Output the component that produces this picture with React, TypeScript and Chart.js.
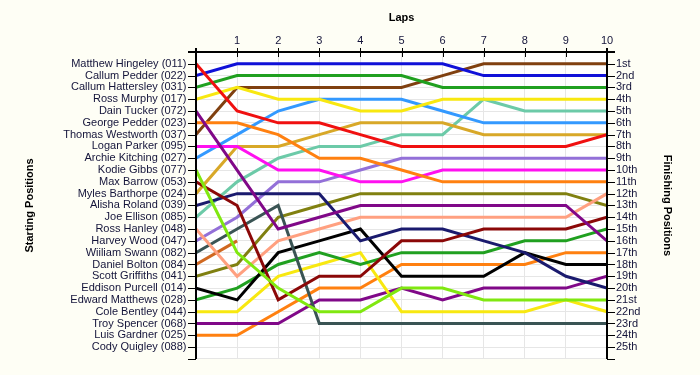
import React, { useEffect, useRef } from "react";
import { Chart, registerables } from "chart.js";
Chart.register(...registerables);

const laps = [0, 1, 2, 3, 4, 5, 6, 7, 8, 9, 10];

const drivers = [
  "Matthew Hingeley (011)", "Callum Pedder (022)", "Callum Hattersley (031)", "Ross Murphy (017)",
  "Dain Tucker (072)", "George Pedder (023)", "Thomas Westworth (037)", "Logan Parker (095)",
  "Archie Kitching (027)", "Kodie Gibbs (077)", "Max Barrow (053)", "Myles Barthorpe (024)",
  "Alisha Roland (039)", "Joe Ellison (085)", "Ross Hanley (048)", "Harvey Wood (047)",
  "Wiiliam Swann (082)", "Daniel Bolton (084)", "Scott Griffiths (041)", "Eddison Purcell (014)",
  "Edward Matthews (028)", "Cole Bentley (044)", "Troy Spencer (068)", "Luis Gardner (025)",
  "Cody Quigley (088)",
];

const finishLabels = [
  "1st", "2nd", "3rd", "4th", "5th", "6th", "7th", "8th", "9th", "10th", "11th", "12th", "13th",
  "14th", "15th", "16th", "17th", "18th", "19th", "20th", "21st", "22nd", "23rd", "24th", "25th",
];

const colors = [
  "#f01010", "#1010d8", "#20a020", "#f8e810", "#800888", "#ff8010", "#804010", "#ff10f0",
  "#3399ff", "#80e810", "#8b0808", "#d8a828", "#1a1a6e", "#6ccaa8", "#ffa080", "#9370d8",
  "#3a5454", "#d06820", "#808010", "#000000", "#20a020", "#f8e810", "#800888", "#ff8010",
  "#000000",
];

const hingeley = [1, 5, 6, 6, 7, 8, 8, 8, 8, 8, 7];
const pedderC = [2, 1, 1, 1, 1, 1, 1, 2, 2, 2, 2];
const hattersley = [3, 2, 2, 2, 2, 2, 3, 3, 3, 3, 3];
const murphy = [4, 3, 4, 4, 5, 5, 4, 4, 4, 4, 4];
const tucker = [5, 10, 15, 14, 13, 13, 13, 13, 13, 13, 16];
const pedderG = [6, 6, 7, 9, 9, 10, 11, 11, 11, 11, 11];
const westworth = [7, 3, 3, 3, 3, 3, 2, 1, 1, 1, 1];
const parker = [8, 8, 10, 10, 11, 11, 10, 10, 10, 10, 10];
const kitching = [9, 7, 5, 4, 4, 4, 5, 6, 6, 6, 6];
const gibbs = [10, 17, 20, 22, 22, 20, 20, 21, 21, 21, 21];
const barrow = [11, 13, 21, 19, 19, 16, 16, 15, 15, 15, 14];
const barthorpe = [12, 8, 8, 7, 6, 6, 6, 7, 7, 7, 7];
const roland = [13, 12, 12, 12, 16, 15, 15, 16, 17, 19, 20];
const ellison = [14, 11, 9, 8, 8, 7, 7, 4, 5, 5, 5];
const hanley = [15, 19, 16, 15, 14, 14, 14, 14, 14, 14, 12];
const wood = [16, 14, 11, 11, 10, 9, 9, 9, 9, 9, 9];
const swann = [17, 15, 13, 23, 23, 23, 23, 23, 23, 23, 23];
const bolton = [18, 16, null, null, null, null, null, null, null, null, null];
const griffiths = [19, 18, 14, 13, 12, 12, 12, 12, 12, 12, 13];
const purcell = [20, 21, 17, 16, 15, 19, 19, 19, 17, 18, 18];
const matthews = [21, 20, 18, 17, 18, 17, 17, 17, 16, 16, 15];
const bentley = [22, 22, 19, 18, 17, 22, 22, 22, 22, 21, 22];
const spencer = [23, 23, 23, 21, 21, 20, 21, 20, 20, 20, 19];
const gardner = [24, 24, 22, 20, 20, 18, 18, 18, 18, 17, 17];
const quigley = [null, null, null, null, null, null, null, null, null, null, null];

const series = [
  hingeley, pedderC, hattersley, murphy, tucker, pedderG, westworth, parker, kitching, gibbs,
  barrow, barthorpe, roland, ellison, hanley, wood, swann, bolton, griffiths, purcell,
  matthews, bentley, spencer, gardner, quigley,
];

const PAGE_BG = "#fefef5";
const LABEL_COLOR = "#14143a";
const GRID = "#e6e6e6";

const framePlugin = {
  id: "frame",
  beforeDraw(chart: any) {
    const { ctx, chartArea: ca, width, height } = chart;
    ctx.save();
    ctx.fillStyle = PAGE_BG;
    ctx.fillRect(0, 0, width, height);
    ctx.fillStyle = "#ffffff";
    ctx.fillRect(ca.left, ca.top, ca.right - ca.left, ca.bottom - ca.top);
    ctx.restore();
  },
  afterDraw(chart: any) {
    const { ctx, chartArea: ca, scales } = chart;
    const xs = scales.x;
    const ys = scales.y;
    ctx.save();
    ctx.strokeStyle = "#000";
    ctx.lineWidth = 2;
    ctx.beginPath();
    ctx.moveTo(ca.left - 8, ca.top);
    ctx.lineTo(ca.right + 8, ca.top);
    ctx.moveTo(ca.left, ca.top - 4);
    ctx.lineTo(ca.left, ca.bottom);
    ctx.moveTo(ca.right, ca.top - 4);
    ctx.lineTo(ca.right, ca.bottom);
    ctx.stroke();
    ctx.lineWidth = 1;
    ctx.beginPath();
    for (const l of laps) {
      const px = Math.round(xs.getPixelForValue(l)) + 0.5;
      ctx.moveTo(px, ca.top - 4);
      ctx.lineTo(px, ca.top + 5);
    }
    for (let p = 1; p <= 26; p++) {
      const py = Math.round(ys.getPixelForValue(p)) + 0.5;
      ctx.moveTo(ca.left - 8, py);
      ctx.lineTo(ca.left, py);
      ctx.moveTo(ca.right, py);
      ctx.lineTo(ca.right + 8, py);
    }
    ctx.stroke();
    ctx.restore();
  },
};

export default function App() {
  const ref = useRef<HTMLCanvasElement | null>(null);
  useEffect(() => {
    document.body.style.margin = "0";
    document.body.style.background = PAGE_BG;
    const canvas = ref.current;
    if (!canvas) return;
    const datasets = series.map((s, i) => ({
      label: drivers[i],
      data: laps.map((l, k) => ({ x: l, y: s[k] })),
      borderColor: colors[i],
      backgroundColor: colors[i],
      borderWidth: 3,
      pointRadius: 0,
      tension: 0,
      fill: false,
      spanGaps: false,
    }));
    const tickFont = { family: "'Liberation Sans', Arial, sans-serif", size: 11 };
    const titleFont = { family: "'Liberation Sans', Arial, sans-serif", size: 11, weight: "bold" as const };
    const chart = new Chart(canvas, {
      type: "line",
      data: { datasets },
      plugins: [framePlugin],
      options: {
        animation: false,
        responsive: false,
        devicePixelRatio: 1,
        layout: { padding: { left: 0, right: 0, top: 0, bottom: 11 } },
        plugins: { legend: { display: false }, tooltip: { enabled: false } },
        scales: {
          x: {
            type: "linear",
            position: "top",
            min: 0,
            max: 10,
            afterFit: (s: any) => { s.height = 52; },
            grid: { color: GRID, drawTicks: false },
            border: { display: false },
            ticks: {
              stepSize: 1,
              padding: 4,
              color: LABEL_COLOR,
              font: tickFont,
              autoSkip: false,
              maxRotation: 0,
              callback: (v: any) => (v === 0 ? "" : String(v)),
            },
            title: { display: true, text: "Laps", color: "#000", font: titleFont, padding: { top: 11.4, bottom: 0 } },
          },
          y: {
            type: "linear",
            position: "left",
            min: 0,
            max: 26,
            reverse: true,
            afterFit: (s: any) => { s.width = 196; },
            grid: { color: GRID, drawTicks: false },
            border: { display: false },
            ticks: {
              stepSize: 1,
              padding: 9.5,
              color: LABEL_COLOR,
              font: tickFont,
              autoSkip: false,
              callback: (v: any) => (v >= 1 && v <= 25 ? drivers[v - 1] : ""),
            },
            title: { display: true, text: "Starting Positions", color: "#000", font: titleFont, padding: { top: 23.4, bottom: 0 } },
          },
          y2: {
            type: "linear",
            position: "right",
            min: 0,
            max: 26,
            reverse: true,
            afterFit: (s: any) => { s.width = 93; },
            grid: { drawOnChartArea: false, drawTicks: false },
            border: { display: false },
            ticks: {
              stepSize: 1,
              padding: 9,
              color: LABEL_COLOR,
              font: tickFont,
              autoSkip: false,
              callback: (v: any) => (v >= 1 && v <= 25 ? finishLabels[v - 1] : ""),
            },
            title: { display: true, text: "Finishing Positions", color: "#000", font: titleFont, padding: { top: 26.4, bottom: 0 } },
          },
        },
      } as any,
    });
    return () => chart.destroy();
  }, []);
  return (
    <div style={{ position: "absolute", left: 0, top: 0, width: 700, height: 375, background: PAGE_BG }}>
      <canvas ref={ref} width={700} height={375} style={{ display: "block", width: 700, height: 375 }} />
    </div>
  );
}
